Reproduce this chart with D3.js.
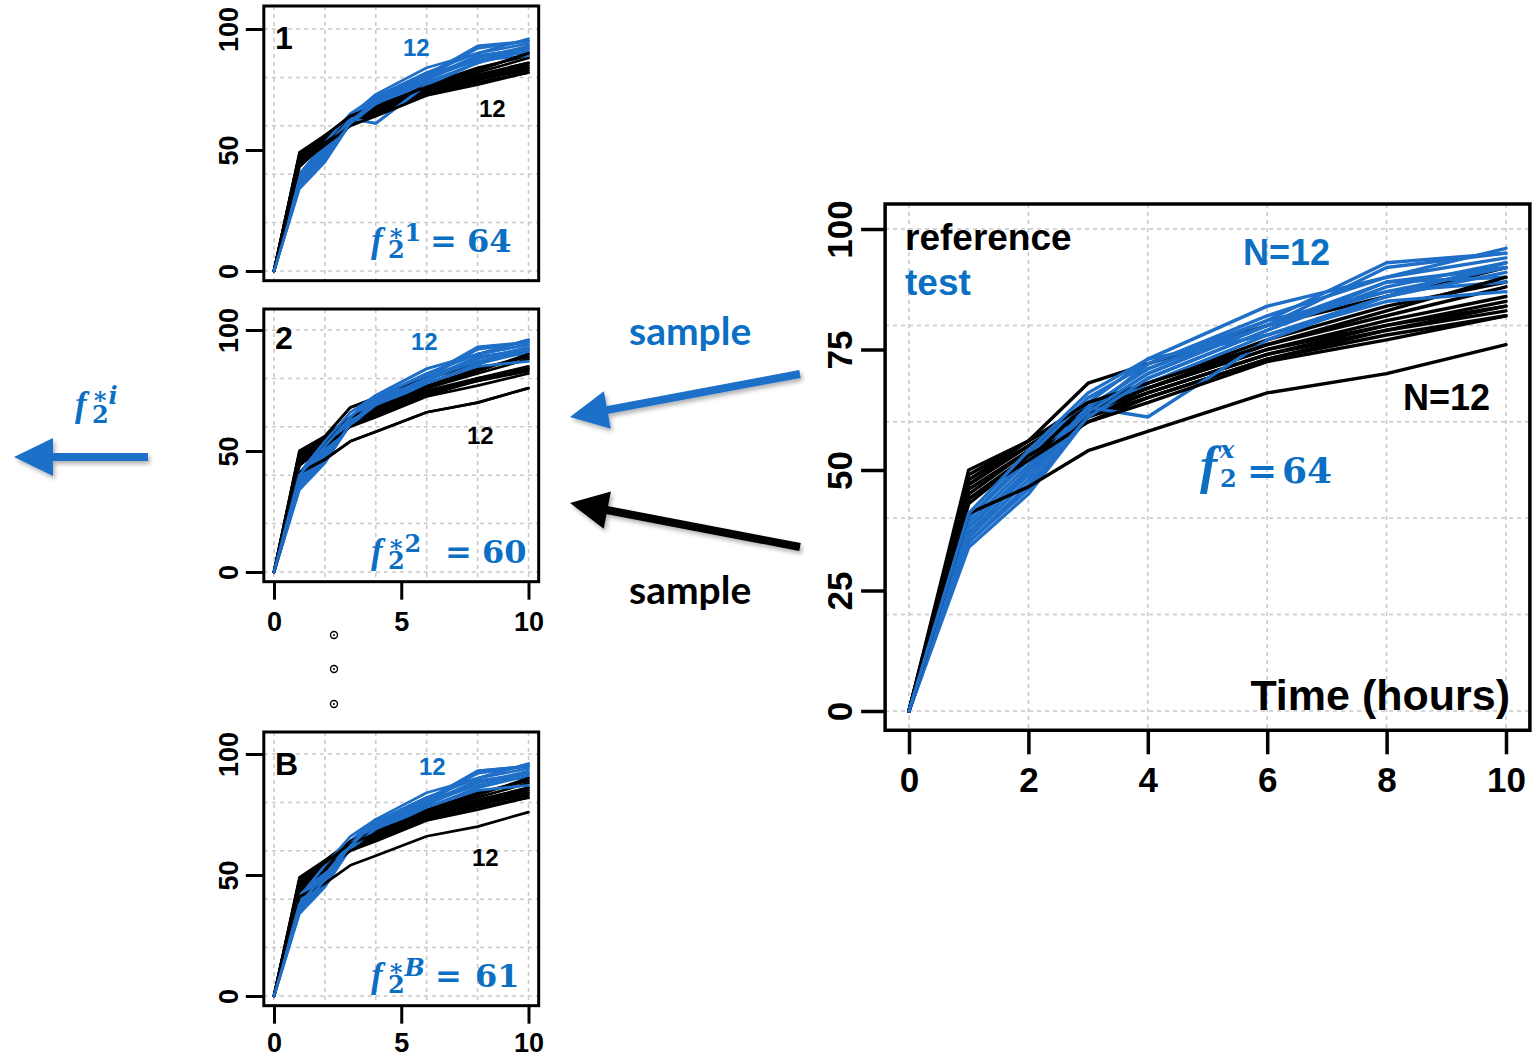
<!DOCTYPE html>
<html>
<head>
<meta charset="utf-8">
<script src="https://cdn.jsdelivr.net/npm/d3@7"></script>
<style>
  body { margin: 0; background: #fff; }
</style>
</head>
<body>
<div id="chart"></div>
<script>
// sampling times (hours)
var times = [0, 1, 2, 3, 4, 6, 8, 10];

// % dissolved, 12 reference profiles
var reference = [
  [0, 50, 56, 68, 72, 80, 86, 92],
  [0, 49, 56, 63, 68, 77, 84, 89],
  [0, 48, 55, 62, 67, 76, 82, 88],
  [0, 47, 55, 63, 67, 75, 81, 86],
  [0, 46, 54, 62, 66, 74, 80, 85],
  [0, 45, 54, 61, 66, 74, 79, 84],
  [0, 44, 53, 61, 65, 73, 79, 83],
  [0, 47, 55, 62, 67, 75, 80, 84],
  [0, 43, 53, 60, 65, 73, 78, 82],
  [0, 48, 56, 64, 68, 76, 83, 90],
  [0, 44, 52, 60, 64, 72.5, 77, 82],
  [0, 41, 46.5, 54, 58, 66, 70, 76]
];

// % dissolved, 12 test profiles
var test = [
  [0, 38, 50, 63, 71, 81, 93, 95],
  [0, 36, 48, 62, 72, 82, 90, 96],
  [0, 40, 52, 64, 73, 84, 90, 94],
  [0, 35, 46, 61, 69, 79, 88, 93],
  [0, 37, 49, 62, 70, 80, 87, 92],
  [0, 34, 45, 61, 68, 78, 86, 91],
  [0, 39, 51, 63, 71, 80, 89, 90],
  [0, 40, 53, 65, 72, 81, 87, 89],
  [0, 36, 50, 63, 61, 77, 86, 93],
  [0, 38, 50, 62, 70, 80, 92, 95],
  [0, 35, 47, 61, 69, 79, 89, 92],
  [0, 41, 54, 66, 73, 78, 85, 87]
];

// bootstrap samples (row indices drawn with replacement)
var sample1Ref  = [1, 2, 3, 3, 4, 5, 6, 7, 8, 9, 9, 10];
var sample1Test = [0, 1, 2, 3, 4, 5, 6, 7, 8, 8, 9, 10];
var sample2Ref  = [0, 0, 1, 2, 4, 5, 6, 7, 9, 10, 11, 11];
var sample2Test = [0, 1, 1, 2, 3, 4, 5, 6, 9, 10, 11, 2];
var sampleBRef  = [1, 2, 3, 4, 5, 6, 7, 8, 9, 10, 11, 3];
var sampleBTest = [0, 1, 2, 3, 4, 5, 6, 9, 10, 11, 0, 1];

// f2 similarity values
var f2Main = 64;
var f2Samples = [64, 60, 61];
var sampleNames = ['1', '2', 'B'];

// ticks and grid
var mainXTicks = [0, 2, 4, 6, 8, 10];
var mainYTicks = [0, 25, 50, 75, 100];
var smallXTicks = [0, 5, 10];
var smallYTicks = [0, 50, 100];
var gridX = [0, 2, 4, 6, 8, 10];
var gridY = [0, 20, 40, 60, 80, 100];

var BLUE = '#1f6fc8', BLUE_TEXT = '#0b6fc4';
var SANS = '"Liberation Sans", Arial, sans-serif';
var MATH = '"DejaVu Serif", serif';
var MATH_F = '"Liberation Serif", "DejaVu Serif", serif';

var svg = d3.select('#chart').append('svg')
  .attr('width', 1540)
  .attr('height', 1058);

var defs = svg.append('defs');
defs.append('filter').attr('id', 'shadow')
  .attr('x', '-20%').attr('y', '-50%').attr('width', '140%').attr('height', '200%')
  .append('feDropShadow')
  .attr('dx', 2).attr('dy', 3).attr('stdDeviation', 2)
  .attr('flood-color', '#000').attr('flood-opacity', 0.3);

function panel(o) {
  var x = d3.scaleLinear().domain([0, 10]).range([o.x0, o.x10]);
  var y = d3.scaleLinear().domain([0, 100]).range([o.y0, o.y100]);
  var left = x(-0.4), right = x(10.4), bottom = y(-4), top = o.top;
  var g = svg.append('g');

  // grid
  g.selectAll('.vgrid').data(gridX).enter().append('line')
    .attr('x1', function(d) { return x(d); })
    .attr('x2', function(d) { return x(d); })
    .attr('y1', top).attr('y2', bottom)
    .attr('stroke', '#c8c8c8').attr('stroke-width', 1.5)
    .attr('stroke-dasharray', '4,4');
  g.selectAll('.hgrid').data(gridY).enter().append('line')
    .attr('y1', function(d) { return y(d); })
    .attr('y2', function(d) { return y(d); })
    .attr('x1', left).attr('x2', right)
    .attr('stroke', '#c8c8c8').attr('stroke-width', 1.5)
    .attr('stroke-dasharray', '4,4');

  // profiles, reference and test interleaved
  var line = d3.line()
    .x(function(d, i) { return x(times[i]); })
    .y(function(d) { return y(d); });
  var rows = [];
  o.refIdx.forEach(function(r, i) {
    rows.push({v: reference[r], c: '#000'});
    rows.push({v: test[o.testIdx[i]], c: BLUE});
  });
  g.selectAll('.profile').data(rows).enter().append('path')
    .attr('d', function(d) { return line(d.v); })
    .attr('fill', 'none')
    .attr('stroke', function(d) { return d.c; })
    .attr('stroke-width', o.lineW)
    .attr('stroke-linejoin', 'round')
    .attr('stroke-linecap', 'round');

  // frame
  g.append('rect')
    .attr('x', left).attr('y', top)
    .attr('width', right - left).attr('height', bottom - top)
    .attr('fill', 'none').attr('stroke', '#000').attr('stroke-width', o.boxW);

  // y axis, labels rotated like R
  g.append('g')
    .attr('transform', 'translate(' + left + ',0)')
    .call(d3.axisLeft(y).tickValues(o.yTicks).tickSize(o.tickLen).tickSizeOuter(0))
    .call(function(a) { a.select('.domain').remove(); })
    .call(function(a) { a.selectAll('line').attr('stroke-width', o.boxW); })
    .call(function(a) {
      a.selectAll('text')
        .attr('transform', 'rotate(-90)')
        .attr('x', 0).attr('y', -o.yLabelGap).attr('dy', 0)
        .attr('text-anchor', 'middle')
        .attr('font-family', SANS).attr('font-weight', 'bold')
        .attr('font-size', o.tickFont);
    });

  if (o.xTicks) {
    g.append('g')
      .attr('transform', 'translate(0,' + bottom + ')')
      .call(d3.axisBottom(x).tickValues(o.xTicks).tickSize(o.tickLen).tickSizeOuter(0))
      .call(function(a) { a.select('.domain').remove(); })
      .call(function(a) { a.selectAll('line').attr('stroke-width', o.boxW); })
      .call(function(a) {
        a.selectAll('text')
          .attr('y', o.xLabelGap).attr('dy', 0)
          .attr('font-family', SANS).attr('font-weight', 'bold')
          .attr('font-size', o.tickFont);
      });
  }
  return g;
}

function label(txt, x, y, size, color, anchor, family) {
  svg.append('text')
    .attr('x', x).attr('y', y)
    .attr('font-family', family || SANS)
    .attr('font-weight', 'bold')
    .attr('font-size', size)
    .attr('fill', color)
    .attr('text-anchor', anchor || 'start')
    .text(txt);
}

// f_2 with sub/superscripts in one text element
function f2(o) {
  var t = svg.append('text')
    .attr('x', o.x).attr('y', o.y)
    .attr('fill', BLUE_TEXT).attr('font-family', MATH).attr('font-weight', 'bold');
  t.append('tspan')
    .attr('font-family', MATH_F).attr('font-size', o.fSize).attr('font-style', 'italic')
    .text('f');
  t.append('tspan')
    .attr('x', o.subX).attr('y', o.y + o.subDy).attr('font-size', o.subSize)
    .text('2');
  var sup = t.append('tspan')
    .attr('x', o.subX).attr('y', o.y + o.supDy).attr('font-size', o.subSize);
  if (o.star) sup.append('tspan').text('\u2217');
  sup.append('tspan')
    .attr('font-style', /[a-z]/i.test(o.sup) ? 'italic' : 'normal')
    .text(o.sup);
  if (o.value != null) {
    t.append('tspan').attr('x', o.eqX).attr('y', o.y)
      .attr('font-size', o.size).text('=');
    t.append('tspan').attr('x', o.valX).attr('y', o.y)
      .attr('font-size', o.size).text(o.value);
  }
}

function arrow(x1, y1, x2, y2, color, w, headLen, headW) {
  var dx = x2 - x1, dy = y2 - y1, L = Math.sqrt(dx * dx + dy * dy);
  var ux = dx / L, uy = dy / L, nx = -uy, ny = ux;
  var bx = x2 - ux * headLen, by = y2 - uy * headLen;
  var g = svg.append('g').attr('filter', 'url(#shadow)');
  g.append('line')
    .attr('x1', x1).attr('y1', y1)
    .attr('x2', bx + ux * 2).attr('y2', by + uy * 2)
    .attr('stroke', color).attr('stroke-width', w);
  g.append('path')
    .attr('d', 'M' + x2 + ',' + y2 +
      'L' + (bx + nx * headW / 2) + ',' + (by + ny * headW / 2) +
      'L' + (bx - nx * headW / 2) + ',' + (by - ny * headW / 2) + 'Z')
    .attr('fill', color);
}

// ---- main chart ----
panel({
  x0: 909, x10: 1506, y0: 711, y100: 229, top: 204,
  refIdx: d3.range(12), testIdx: d3.range(12),
  lineW: 3.4, boxW: 3.5, tickLen: 24, tickFont: 35,
  yLabelGap: 33, xLabelGap: 62,
  xTicks: mainXTicks, yTicks: mainYTicks
});
label('reference', 905, 250, 37, '#000');
label('test', 905, 295, 37, BLUE_TEXT);
label('N=12', 1243, 265, 36, BLUE_TEXT);
label('N=12', 1403, 410, 36, '#000');
label('Time (hours)', 1510, 710, 43, '#000', 'end');
f2({x: 1200, y: 483, fSize: 52, subSize: 24, size: 36, subX: 1220, subDy: 4, supDy: -25,
    star: false, sup: 'x', value: f2Main, eqX: 1247, valX: 1282});

// ---- bootstrap panels ----
var smallLayout = [
  {y0: 271, y100: 29, top: 6, xTicks: null, xGap: 48, refIdx: sample1Ref, testIdx: sample1Test,
   nameY: 49, blueX: 403, blueY: 56, blackX: 479, blackY: 117, f2Y: 252, eqX: 430, valX: 467},
  {y0: 572, y100: 330, top: 309, xTicks: smallXTicks, xGap: 49, refIdx: sample2Ref, testIdx: sample2Test,
   nameY: 349, blueX: 411, blueY: 350, blackX: 467, blackY: 444, f2Y: 563, eqX: 445, valX: 482},
  {y0: 996, y100: 754, top: 732, xTicks: smallXTicks, xGap: 46, refIdx: sampleBRef, testIdx: sampleBTest,
   nameY: 775, blueX: 419, blueY: 775, blackX: 472, blackY: 866, f2Y: 987, eqX: 435, valX: 475}
];
smallLayout.forEach(function(p, i) {
  panel({
    x0: 274, x10: 528.5, y0: p.y0, y100: p.y100, top: p.top,
    refIdx: p.refIdx, testIdx: p.testIdx,
    lineW: 2.7, boxW: 3, tickLen: 18, tickFont: 27,
    yLabelGap: 26, xLabelGap: p.xGap,
    xTicks: p.xTicks, yTicks: smallYTicks
  });
  label(sampleNames[i], 275, p.nameY, 32, '#000');
  label('12', p.blueX, p.blueY, 24, BLUE_TEXT);
  label('12', p.blackX, p.blackY, 24, '#000');
  f2({x: 371, y: p.f2Y, fSize: 35, subSize: 24, size: 32, subX: 388, subDy: 6, supDy: -11,
      star: true, sup: sampleNames[i], value: f2Samples[i], eqX: p.eqX, valX: p.valX});
});

// ellipsis between panel 2 and panel B
svg.selectAll('.dot').data([635, 669, 704]).enter().append('g')
  .each(function(d) {
    var c = d3.select(this);
    c.append('circle').attr('cx', 334).attr('cy', d).attr('r', 3.5)
      .attr('fill', 'none').attr('stroke', '#000').attr('stroke-width', 1.4);
    c.append('circle').attr('cx', 334).attr('cy', d).attr('r', 1)
      .attr('fill', '#000');
  });

// ---- arrows and captions ----
arrow(800, 374, 570, 417, BLUE, 8, 38, 38);
arrow(800, 547, 570, 503, '#000', 8, 38, 38);
arrow(148, 457, 14, 457, BLUE, 8, 39, 38);
label('sample', 629, 345, 39, BLUE_TEXT, 'start', 'Lato, "Open Sans", sans-serif');
label('sample', 629, 604, 39, '#000', 'start', 'Lato, "Open Sans", sans-serif');
f2({x: 75, y: 416, fSize: 35, subSize: 24, subX: 92, subDy: 7, supDy: -12,
    star: true, sup: 'i', value: null});
</script>
</body>
</html>
